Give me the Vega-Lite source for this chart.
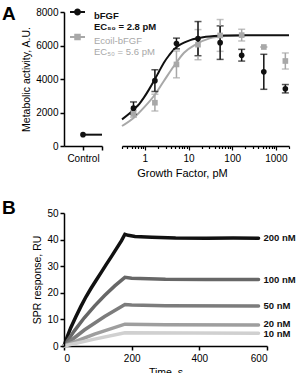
{
  "$schema": "https://vega.github.io/schema/vega-lite/v6.json",
  "padding": {"left": 2, "top": 5, "right": 0, "bottom": 0},
  "background": "white",
  "config": {
    "view": {"stroke": null},
    "font": "Liberation Sans",
    "axis": {
      "grid": false,
      "domainColor": "#000",
      "domainWidth": 1.5,
      "tickColor": "#000",
      "tickWidth": 1.5,
      "tickSize": 4,
      "labelFont": "Liberation Sans",
      "labelFontSize": 10,
      "labelColor": "#000",
      "titleFont": "Liberation Sans",
      "titleFontSize": 10.5,
      "titleFontWeight": "normal",
      "titleColor": "#000"
    },
    "title": {"font": "Liberation Sans", "fontSize": 19, "fontWeight": "bold", "color": "#000"}
  },
  "datasets": {
    "control": [{"sample": "Control", "activity": 676}],
    "fit": [
      {"series": "bFGF", "dose": 0.3, "activity": 1590},
      {"series": "bFGF", "dose": 0.45, "activity": 1950},
      {"series": "bFGF", "dose": 0.56, "activity": 2185},
      {"series": "bFGF", "dose": 0.75, "activity": 2520},
      {"series": "bFGF", "dose": 0.95, "activity": 2885},
      {"series": "bFGF", "dose": 1.25, "activity": 3380},
      {"series": "bFGF", "dose": 1.61, "activity": 3880},
      {"series": "bFGF", "dose": 2.1, "activity": 4430},
      {"series": "bFGF", "dose": 2.73, "activity": 4975},
      {"series": "bFGF", "dose": 3.6, "activity": 5420},
      {"series": "bFGF", "dose": 4.64, "activity": 5770},
      {"series": "bFGF", "dose": 6, "activity": 6000},
      {"series": "bFGF", "dose": 7.9, "activity": 6170},
      {"series": "bFGF", "dose": 11, "activity": 6320},
      {"series": "bFGF", "dose": 15.9, "activity": 6425},
      {"series": "bFGF", "dose": 25, "activity": 6520},
      {"series": "bFGF", "dose": 38.6, "activity": 6570},
      {"series": "bFGF", "dose": 70, "activity": 6600},
      {"series": "bFGF", "dose": 200, "activity": 6610},
      {"series": "bFGF", "dose": 2000, "activity": 6615},
      {"series": "Ecoil-bFGF", "dose": 0.3, "activity": 1195},
      {"series": "Ecoil-bFGF", "dose": 0.56, "activity": 1690},
      {"series": "Ecoil-bFGF", "dose": 0.95, "activity": 2290},
      {"series": "Ecoil-bFGF", "dose": 1.61, "activity": 2985},
      {"series": "Ecoil-bFGF", "dose": 2.73, "activity": 3880},
      {"series": "Ecoil-bFGF", "dose": 4.64, "activity": 4775},
      {"series": "Ecoil-bFGF", "dose": 7.9, "activity": 5570},
      {"series": "Ecoil-bFGF", "dose": 14.7, "activity": 6065},
      {"series": "Ecoil-bFGF", "dose": 30.4, "activity": 6425},
      {"series": "Ecoil-bFGF", "dose": 70, "activity": 6560},
      {"series": "Ecoil-bFGF", "dose": 200, "activity": 6600}
    ],
    "measured": [
      {"series": "Ecoil-bFGF", "dose": 0.55, "activity": 1920, "sem": 200},
      {"series": "Ecoil-bFGF", "dose": 1.7, "activity": 2585, "sem": 500},
      {"series": "Ecoil-bFGF", "dose": 5.3, "activity": 4870, "sem": 800},
      {"series": "Ecoil-bFGF", "dose": 16.5, "activity": 6050, "sem": 900},
      {"series": "Ecoil-bFGF", "dose": 53, "activity": 6600, "sem": 950},
      {"series": "Ecoil-bFGF", "dose": 165, "activity": 6620, "sem": 350},
      {"series": "Ecoil-bFGF", "dose": 530, "activity": 5910, "sem": 0},
      {"series": "Ecoil-bFGF", "dose": 1650, "activity": 5075, "sem": 480},
      {"series": "bFGF", "dose": 0.55, "activity": 2260, "sem": 370},
      {"series": "bFGF", "dose": 1.7, "activity": 3900, "sem": 650},
      {"series": "bFGF", "dose": 5.3, "activity": 6120, "sem": 320},
      {"series": "bFGF", "dose": 16.5, "activity": 6410, "sem": 1020},
      {"series": "bFGF", "dose": 53, "activity": 6170, "sem": 1000},
      {"series": "bFGF", "dose": 165, "activity": 5420, "sem": 350},
      {"series": "bFGF", "dose": 530, "activity": 4430, "sem": 1045},
      {"series": "bFGF", "dose": 1650, "activity": 3420, "sem": 250}
    ],
    "spr": [
      {"conc": "200 nM", "t": 0, "ru": 0},
      {"conc": "200 nM", "t": 10, "ru": 3.6},
      {"conc": "200 nM", "t": 20, "ru": 6.9},
      {"conc": "200 nM", "t": 35, "ru": 11},
      {"conc": "200 nM", "t": 50, "ru": 14.9},
      {"conc": "200 nM", "t": 65, "ru": 18.5},
      {"conc": "200 nM", "t": 80, "ru": 21.7},
      {"conc": "200 nM", "t": 95, "ru": 24.7},
      {"conc": "200 nM", "t": 110, "ru": 27.7},
      {"conc": "200 nM", "t": 125, "ru": 30.7},
      {"conc": "200 nM", "t": 140, "ru": 33.6},
      {"conc": "200 nM", "t": 155, "ru": 36.6},
      {"conc": "200 nM", "t": 170, "ru": 39.6},
      {"conc": "200 nM", "t": 180, "ru": 42},
      {"conc": "200 nM", "t": 190, "ru": 41.6},
      {"conc": "200 nM", "t": 210, "ru": 41.2},
      {"conc": "200 nM", "t": 260, "ru": 40.9},
      {"conc": "200 nM", "t": 330, "ru": 40.6},
      {"conc": "200 nM", "t": 420, "ru": 40.5},
      {"conc": "200 nM", "t": 500, "ru": 40.6},
      {"conc": "200 nM", "t": 575, "ru": 40.5},
      {"conc": "100 nM", "t": 0, "ru": 0},
      {"conc": "100 nM", "t": 30, "ru": 5.6},
      {"conc": "100 nM", "t": 60, "ru": 10.6},
      {"conc": "100 nM", "t": 90, "ru": 15},
      {"conc": "100 nM", "t": 120, "ru": 19},
      {"conc": "100 nM", "t": 150, "ru": 22.6},
      {"conc": "100 nM", "t": 180, "ru": 25.8},
      {"conc": "100 nM", "t": 200, "ru": 25.5},
      {"conc": "100 nM", "t": 300, "ru": 25.1},
      {"conc": "100 nM", "t": 420, "ru": 25},
      {"conc": "100 nM", "t": 575, "ru": 25},
      {"conc": "50 nM", "t": 0, "ru": 0},
      {"conc": "50 nM", "t": 60, "ru": 6},
      {"conc": "50 nM", "t": 120, "ru": 11.1},
      {"conc": "50 nM", "t": 180, "ru": 15.6},
      {"conc": "50 nM", "t": 200, "ru": 15.4},
      {"conc": "50 nM", "t": 300, "ru": 15.1},
      {"conc": "50 nM", "t": 575, "ru": 15},
      {"conc": "20 nM", "t": 0, "ru": 0},
      {"conc": "20 nM", "t": 90, "ru": 4.5},
      {"conc": "20 nM", "t": 180, "ru": 8.2},
      {"conc": "20 nM", "t": 300, "ru": 8},
      {"conc": "20 nM", "t": 575, "ru": 7.9},
      {"conc": "10 nM", "t": 0, "ru": 0},
      {"conc": "10 nM", "t": 90, "ru": 2.6},
      {"conc": "10 nM", "t": 180, "ru": 5},
      {"conc": "10 nM", "t": 575, "ru": 4.8}
    ],
    "sprLabels": [
      {"conc": "200 nM", "t": 575, "ru": 40.5},
      {"conc": "100 nM", "t": 575, "ru": 25},
      {"conc": "50 nM", "t": 575, "ru": 15},
      {"conc": "20 nM", "t": 575, "ru": 8.3},
      {"conc": "10 nM", "t": 575, "ru": 4.4}
    ]
  },
  "spacing": 21,
  "vconcat": [
    {
      "title": {"text": "A", "anchor": "start", "frame": "group", "dx": -62, "dy": 17, "offset": 0},
      "spacing": 15,
      "hconcat": [
        {
          "width": 38,
          "height": 134,
          "data": {"name": "control"},
          "layer": [
            {
              "mark": {"type": "rule", "color": "#111", "strokeWidth": 2},
              "encoding": {
                "x": {"datum": 1, "type": "quantitative"},
                "x2": {"datum": 2},
                "y": {"field": "activity", "type": "quantitative"}
              }
            },
            {
              "mark": {"type": "point", "filled": true, "shape": "circle", "size": 32, "color": "#111", "opacity": 1},
              "encoding": {
                "x": {
                  "datum": 1,
                  "type": "quantitative",
                  "scale": {"domain": [0, 2], "nice": false, "zero": false},
                  "axis": {"title": null, "values": [1, 2], "labelExpr": "datum.value == 1 ? 'Control' : ''", "labelPadding": 3}
                },
                "y": {
                  "field": "activity",
                  "type": "quantitative",
                  "scale": {"domain": [0, 8000], "nice": false},
                  "axis": {"title": "Metabolic activity, A.U.", "tickCount": 4, "format": "d", "labelOverlap": false, "titlePadding": 4, "labelPadding": 2}
                }
              }
            }
          ]
        },
        {
          "width": 167,
          "height": 134,
          "encoding": {
            "x": {
              "field": "dose",
              "type": "quantitative",
              "scale": {"type": "log", "domain": [0.3, 2000], "nice": false},
              "axis": {
                "title": "Growth Factor, pM",
                "titleFontSize": 11,
                "titlePadding": 4,
                "titleX": 60,
                "titleAlign": "center",
                "values": [0.3, 0.4, 0.5, 0.6, 0.7, 0.8, 0.9, 1, 2, 3, 4, 5, 6, 7, 8, 9, 10, 20, 30, 40, 50, 60, 70, 80, 90, 100, 200, 300, 400, 500, 600, 700, 800, 900, 1000, 2000],
                "labelExpr": "datum.value == 1 ? '1' : datum.value == 10 ? '10' : datum.value == 100 ? '100' : datum.value == 1000 ? '1000' : ''",
                "labelOverlap": false,
                "labelPadding": 3,
                "tickSize": {"condition": {"test": "datum.value == 1 || datum.value == 10 || datum.value == 100 || datum.value == 1000", "value": 4}, "value": 2.5},
                "tickWidth": 1.2
              }
            },
            "y": {
              "field": "activity",
              "type": "quantitative",
              "scale": {"domain": [0, 8000], "nice": false},
              "axis": null
            },
            "color": {
              "field": "series",
              "type": "nominal",
              "scale": {"domain": ["bFGF", "Ecoil-bFGF"], "range": ["#111111", "#a8a8a8"]},
              "legend": {
                "orient": "none",
                "legendX": 5,
                "legendY": -5,
                "title": null,
                "symbolSize": 225,
                "symbolStrokeWidth": 2,
                "labelFont": "Liberation Sans",
                "labelFontSize": 9.5,
                "labelLineHeight": 9.5,
                "labelBaseline": "middle",
                "labelOffset": 8,
                "rowPadding": -7,
                "labelExpr": "datum.value == 'bFGF' ? ['bFGF', 'EC₅₀ = 2.8 pM'] : ['Ecoil-bFGF', 'EC₅₀ = 5.6 pM']",
                "encode": {
                  "symbols": {
                    "update": {
                      "shape": {"signal": "datum.value == 'bFGF' ? 'M-1,0H1M-0.33,0A0.33,0.33,0,1,1,0.33,0A0.33,0.33,0,1,1,-0.33,0Z' : 'M-1,0H1M-0.3,-0.3H0.3V0.3H-0.3Z'"},
                      "fill": {"signal": "datum.value == 'bFGF' ? '#111111' : '#a8a8a8'"},
                      "stroke": {"signal": "datum.value == 'bFGF' ? '#111111' : '#a8a8a8'"},
                      "strokeWidth": {"value": 2},
                      "yc": {"value": 5}
                    }
                  },
                  "labels": {
                    "update": {
                      "fill": {"signal": "datum.value == 'bFGF' ? '#111111' : '#a8a8a8'"},
                      "fontWeight": {"signal": "datum.value == 'bFGF' ? 'bold' : 'normal'"}
                    }
                  }
                }
              }
            }
          },
          "layer": [
            {
              "data": {"name": "fit"},
              "transform": [{"filter": "datum.series == 'Ecoil-bFGF'"}],
              "mark": {"type": "line", "strokeWidth": 2, "interpolate": "monotone"}
            },
            {
              "data": {"name": "fit"},
              "transform": [{"filter": "datum.series == 'bFGF'"}],
              "mark": {"type": "line", "strokeWidth": 2, "interpolate": "monotone"}
            },
            {
              "data": {"name": "measured"},
              "mark": {"type": "errorbar", "ticks": {"size": 7}, "thickness": 1.5},
              "encoding": {
                "yError": {"field": "sem"}
              }
            },
            {
              "data": {"name": "measured"},
              "mark": {"type": "point", "filled": true, "size": 32, "opacity": 1},
              "encoding": {
                "shape": {"field": "series", "type": "nominal", "scale": {"domain": ["bFGF", "Ecoil-bFGF"], "range": ["circle", "square"]}, "legend": null}
              }
            }
          ]
        }
      ]
    },
    {
      "title": {"text": "B", "anchor": "start", "frame": "group", "dx": -62, "dy": 10, "offset": 0},
      "width": 203,
      "height": 133,
      "encoding": {
        "x": {
          "field": "t",
          "type": "quantitative",
          "scale": {"domain": [0, 600], "nice": false},
          "axis": {"title": "Time, s", "values": [0, 200, 400, 600], "titlePadding": 4, "labelPadding": 3}
        },
        "y": {
          "field": "ru",
          "type": "quantitative",
          "scale": {"domain": [0, 50], "nice": false},
          "axis": {
            "title": "SPR response, RU",
            "values": [0, 10, 20, 30, 40, 50],
            "titlePadding": 4,
            "labelPadding": 2,
            "labelOverlap": false,
            "labelBound": false,
            "labelFlush": false,
            "labelAngle": 0,
            "labelAlign": "right",
            "labelBaseline": "middle",
            "labelOpacity": 1,
            "zindex": 1
          }
        }
      },
      "layer": [
        {
          "data": {"name": "spr"},
          "mark": {"type": "line", "strokeWidth": 3.5, "strokeCap": "round"},
          "encoding": {
            "color": {
              "field": "conc",
              "type": "nominal",
              "scale": {"domain": ["10 nM", "20 nM", "50 nM", "100 nM", "200 nM"], "range": ["#d0d0d0", "#9e9e9e", "#7c7c7c", "#676767", "#111111"]},
              "legend": null
            },
            "order": {"field": "t"}
          }
        },
        {
          "data": {"name": "sprLabels"},
          "mark": {"type": "text", "align": "left", "baseline": "middle", "dx": 5, "fontSize": 9.5, "fontWeight": "bold", "color": "#111", "font": "Liberation Sans"},
          "encoding": {"text": {"field": "conc"}}
        }
      ]
    }
  ],
  "resolve": {"scale": {"color": "independent"}}
}
